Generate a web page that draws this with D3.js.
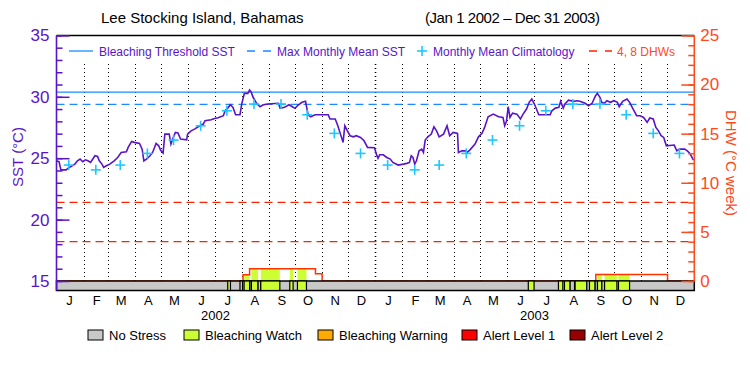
<!DOCTYPE html>
<html>
<head>
<meta charset="utf-8">
<script src="https://cdn.jsdelivr.net/npm/d3@7"></script>
<style>
  body { margin: 0; background: #fff; }
  text { font-family: "Liberation Sans", Arial, sans-serif; }
</style>
</head>
<body>
<svg id="chart" width="750" height="375"></svg>
<script>
// ********************** //
//          Data          //
// ********************** //

// days since Jan 1 2002
var sstDay = [0,3,5,11,13,17,21,24,27,30,33,36,39,41,44,47,49,52,54,57,61,66,70,74,80,82,86,89,95,98,
  100,103,107,110,114,117,119,122,124,129,131,133,136,139,142,149,150,154,158,164,168,170,177,181,185,
  191,193,196,199,202,205,210,212,215,219,221,223,225,227,229,233,236,242,254,256,261,266,270,273,277,
  281,285,288,291,296,311,313,319,322,325,328,330,333,336,340,343,348,352,356,364,366,368,370,374,378,
  382,385,391,397,401,404,406,408,410,412,415,418,420,422,425,429,432,435,438,443,447,450,454,459,460,
  464,468,470,473,479,483,487,490,494,500,506,511,513,515,517,519,522,527,531,534,538,541,544,547,552,
  565,567,571,575,577,580,582,586,592,596,599,605,609,613,617,619,622,624,627,630,634,638,642,644,648,
  653,656,660,664,668,672,676,679,683,686,689,692,695,698,707,710,713,719,722,725,729];
var sstValue = [24.79,24.70,24.05,24.05,24.17,24.33,24.52,24.79,24.93,24.71,24.87,24.79,24.66,24.87,25.20,
  25.14,24.79,24.52,24.25,24.38,24.52,24.79,25.06,25.47,25.52,25.88,26.37,26.29,26.20,25.74,
  24.79,24.93,25.20,25.47,26.20,26.01,25.66,25.42,26.96,26.96,26.15,26.56,27.10,27.05,26.56,26.50,26.96,
  27.23,27.37,27.64,27.78,28.05,28.13,28.24,28.29,
  28.46,28.86,29.08,29.35,29.14,28.54,28.54,29.41,30.28,30.28,30.55,30.36,29.96,29.73,29.47,29.19,29.33,
  29.41,29.47,29.06,29.14,29.35,29.19,29.06,29.35,
  29.55,29.63,28.54,28.37,28.54,28.54,28.19,28.19,27.64,26.96,26.29,27.64,27.23,26.83,26.74,26.83,26.69,
  26.42,25.88,25.85,25.35,25.00,25.28,25.28,25.06,
  24.93,24.66,24.44,24.52,24.58,24.66,25.20,25.06,24.52,24.79,25.60,25.74,25.47,26.48,26.74,26.96,27.56,
  27.23,26.74,26.96,27.64,26.83,27.10,27.02,25.47,
  25.60,25.60,25.47,25.66,26.15,26.74,27.02,27.51,28.37,28.59,28.37,28.32,27.64,28.00,29.19,28.32,28.67,
  28.59,28.19,28.59,29.00,29.55,29.82,29.41,28.54,
  28.54,28.86,29.08,29.14,29.63,29.08,29.41,29.73,29.63,29.68,29.63,29.47,29.27,29.47,30.09,30.28,29.96,
  29.55,29.47,29.68,29.55,29.68,29.55,29.19,29.63,
  29.82,29.55,29.00,28.46,28.46,28.32,27.92,28.27,28.19,27.51,27.23,26.83,26.69,26.01,26.07,25.60,25.74,
  25.74,25.60,25.39,24.85];

// monthly mean climatology, Jan..Dec
var climValue = [24.44, 24.05, 24.44, 25.39, 26.48, 27.64, 28.86, 29.41, 29.41, 28.54, 27.02, 25.39];
var maxMonthlyMean = 29.38;
var bleachingThreshold = 30.38;
var dhwLevels = [4, 8];

// degree heating weeks (step values, days since Jan 1 2002)
var dhwDay = [0, 213.5, 221, 296.4, 304, 617.3, 699.4, 730];
var dhwValue = [0, 0.63, 1.24, 0.73, 0, 0.65, 0, 0];

// stress level segments: 0 no stress, 1 watch, 2 warning, 3 alert 1, 4 alert 2
var stressStart = [196, 210, 214.7, 221.2, 223.1, 230.7, 233.8, 267, 275.8,
  540, 574.5, 581.4, 587.9, 593.6, 607, 610, 616.5, 619.2, 624.2, 627.3, 643.2];
var stressEnd = [199.1, 213, 221.2, 223.1, 230.7, 233.8, 255.6, 270.8, 286.1,
  546.6, 579.5, 587.9, 592.9, 607, 611.9, 616.5, 619.2, 624.2, 627.3, 641.4, 655.9];
var stressLevel = [1, 0, 1, 0, 1, 0, 1, 1, 1,
  1, 1, 1, 0, 1, 0, 1, 0, 1, 0, 1, 1];

var stressNames = ['No Stress', 'Bleaching Watch', 'Bleaching Warning', 'Alert Level 1', 'Alert Level 2'];
var stressColors = ['#c8c8c8', '#ccff33', '#ffaa00', '#ff0000', '#990000'];
var monthLetters = ['J','F','M','A','M','J','J','A','S','O','N','D'];
var years = [2002, 2003];

// ********************** //
//         Setup          //
// ********************** //

var purple = '#5a14c8',
    red = '#ff4a1a',
    blue = '#1a8cff',
    cyan = '#1ec8ff';

var svg = d3.select('#chart');
var day0 = new Date(2002, 0, 1);
var toDate = d => d3.timeDay.offset(day0, Math.floor(d)).getTime() + (d % 1) * 864e5;

var x = d3.scaleTime()
    .domain([day0, new Date(2004, 0, 1)])
    .range([56.5, 694.3]);
var ySst = d3.scaleLinear().domain([15, 35]).range([281, 35.4]);
var yDhw = d3.scaleLinear().domain([0, 25]).range([281, 35.4]);

var plotTop = 35.4, stripTop = 281, stripBottom = 290.5;

// plot frame top
svg.append('line')
    .attr('x1', x.range()[0]).attr('x2', x.range()[1])
    .attr('y1', plotTop).attr('y2', plotTop)
    .attr('stroke', '#000').attr('stroke-width', 1.5);

// ***** Month grid ***** //
var monthStarts = d3.timeMonth.range(new Date(2002, 1, 1), new Date(2004, 0, 1));
svg.append('g').selectAll('line')
    .data(monthStarts)
    .enter()
    .append('line')
    .attr('x1', d => Math.round(x(d)) + 0.5).attr('x2', d => Math.round(x(d)) + 0.5)
    .attr('y1', 64).attr('y2', stripTop)
    .attr('stroke', '#000')
    .attr('stroke-width', d => d.getMonth() == 0 ? 1.6 : 1)
    .attr('stroke-dasharray', '1,3');

// ***** Reference lines ***** //
svg.append('line')
    .attr('x1', x.range()[0]).attr('x2', x.range()[1])
    .attr('y1', ySst(bleachingThreshold)).attr('y2', ySst(bleachingThreshold))
    .attr('stroke', blue).attr('stroke-width', 1.3);
svg.append('line')
    .attr('x1', x.range()[0]).attr('x2', x.range()[1])
    .attr('y1', ySst(maxMonthlyMean)).attr('y2', ySst(maxMonthlyMean))
    .attr('stroke', blue).attr('stroke-width', 1.3)
    .attr('stroke-dasharray', '8,5');
svg.append('g').selectAll('line')
    .data(dhwLevels)
    .enter()
    .append('line')
    .attr('x1', x.range()[0]).attr('x2', x.range()[1])
    .attr('y1', d => yDhw(d)).attr('y2', d => yDhw(d))
    .attr('stroke', '#ff2200').attr('stroke-width', 1.3)
    .attr('stroke-dasharray', '8,5');

// ***** DHW fill + step line ***** //
var dhwAt = function(d) {
    var i = d3.bisectRight(dhwDay, d) - 1;
    return dhwValue[Math.max(i, 0)];
};
var stress = stressStart.map((s, i) => ({s: s, e: stressEnd[i], level: stressLevel[i]}));

svg.append('g').selectAll('rect')
    .data(stress.filter(d => d.level > 0 && dhwAt(d.s + 0.5) > 0))
    .enter()
    .append('rect')
    .attr('x', d => x(toDate(d.s)))
    .attr('width', d => x(toDate(d.e)) - x(toDate(d.s)))
    .attr('y', d => yDhw(dhwAt(d.s + 0.5)))
    .attr('height', d => stripTop - yDhw(dhwAt(d.s + 0.5)))
    .attr('fill', d => stressColors[d.level]);

var dhwLine = d3.line()
    .x((d, i) => x(toDate(dhwDay[i])))
    .y(d => yDhw(d))
    .curve(d3.curveStepAfter);
svg.append('path')
    .attr('d', dhwLine(dhwValue))
    .attr('fill', 'none')
    .attr('stroke', '#ff3300')
    .attr('stroke-width', 1.5);

// ***** Stress strip ***** //
svg.append('rect')
    .attr('x', x.range()[0]).attr('y', stripTop)
    .attr('width', x.range()[1] - x.range()[0]).attr('height', stripBottom - stripTop)
    .attr('fill', stressColors[0])
    .attr('stroke', '#000').attr('stroke-width', 1.5);
svg.append('g').selectAll('rect')
    .data(stress)
    .enter()
    .append('rect')
    .attr('x', d => x(toDate(d.s)))
    .attr('width', d => x(toDate(d.e)) - x(toDate(d.s)))
    .attr('y', stripTop).attr('height', stripBottom - stripTop)
    .attr('fill', d => stressColors[d.level])
    .attr('stroke', '#000').attr('stroke-width', 1.2);

// ***** SST line ***** //
var sstLine = d3.line()
    .x((d, i) => x(toDate(sstDay[i])))
    .y(d => ySst(d));
svg.append('path')
    .attr('d', sstLine(sstValue))
    .attr('fill', 'none')
    .attr('stroke', purple)
    .attr('stroke-width', 1.6)
    .attr('stroke-linejoin', 'miter');

// ***** Climatology crosses ***** //
var clim = [];
years.forEach(yr => climValue.forEach((v, m) => clim.push({date: new Date(yr, m, 15), v: v})));
var cross = svg.append('g').selectAll('g')
    .data(clim)
    .enter()
    .append('g')
    .attr('transform', d => 'translate(' + x(d.date) + ',' + ySst(d.v) + ')')
    .attr('stroke', cyan).attr('stroke-width', 1.6);
cross.append('line').attr('x1', -5).attr('x2', 5);
cross.append('line').attr('y1', -5).attr('y2', 5);

// ********************** //
//          Axes          //
// ********************** //

var leftMinor = d3.axisLeft(ySst).ticks(20).tickSize(-6).tickFormat('');
var leftMajor = d3.axisLeft(ySst).tickValues([15, 20, 25, 30, 35]).tickSize(-13).tickPadding(7);
var rightMinor = d3.axisRight(yDhw).ticks(25).tickSize(-6).tickFormat('');
var rightMajor = d3.axisRight(yDhw).tickValues([0, 5, 10, 15, 20, 25]).tickSize(-13).tickPadding(6);

var styleAxis = function(g, color) {
    g.selectAll('path').remove();
    g.selectAll('line').attr('stroke', color).attr('stroke-width', 1.5);
    g.selectAll('text').attr('fill', color).attr('font-size', 17);
};

svg.append('g').attr('transform', 'translate(56.5,0)').call(leftMinor).call(styleAxis, purple);
svg.append('g').attr('transform', 'translate(56.5,0)').call(leftMajor).call(styleAxis, purple);
svg.append('g').attr('transform', 'translate(694.3,0)').call(rightMinor).call(styleAxis, red);
svg.append('g').attr('transform', 'translate(694.3,0)').call(rightMajor).call(styleAxis, red);

svg.append('line')
    .attr('x1', 56.5).attr('x2', 56.5).attr('y1', plotTop).attr('y2', stripBottom)
    .attr('stroke', purple).attr('stroke-width', 1.6);
svg.append('line')
    .attr('x1', 694.3).attr('x2', 694.3).attr('y1', plotTop).attr('y2', stripTop)
    .attr('stroke', red).attr('stroke-width', 1.6);

svg.append('text')
    .attr('transform', 'translate(23,157) rotate(-90)')
    .attr('text-anchor', 'middle')
    .attr('fill', purple).attr('font-size', 15)
    .text('SST (°C)');
svg.append('text')
    .attr('transform', 'translate(726,163) rotate(90)')
    .attr('text-anchor', 'middle')
    .attr('fill', red).attr('font-size', 15)
    .text('DHW (°C week)');

// ***** Month + year labels ***** //
var months = d3.timeMonth.range(day0, new Date(2004, 0, 1));
svg.append('g').selectAll('text')
    .data(months)
    .enter()
    .append('text')
    .attr('x', d => x(new Date(d.getFullYear(), d.getMonth(), 16)))
    .attr('y', 305)
    .attr('text-anchor', 'middle')
    .attr('font-size', 13)
    .text(d => monthLetters[d.getMonth()]);
svg.append('g').selectAll('text')
    .data(years)
    .enter()
    .append('text')
    .attr('x', d => x(new Date(d, 6, 2)))
    .attr('y', 320)
    .attr('text-anchor', 'middle')
    .attr('font-size', 13)
    .text(d => d);

// ********************** //
//        Legends         //
// ********************** //

var legendX = [88, 184, 318, 462, 570];
var lg = svg.append('g').selectAll('g')
    .data(stressNames)
    .enter()
    .append('g')
    .attr('transform', (d, i) => 'translate(' + legendX[i] + ',330)');
lg.append('rect')
    .attr('width', 15).attr('height', 10)
    .attr('fill', (d, i) => stressColors[i])
    .attr('stroke', '#000');
lg.append('text')
    .attr('x', 21).attr('y', 10)
    .attr('font-size', 13)
    .text(d => d);

var topLeg = svg.append('g').attr('transform', 'translate(0,51)');
topLeg.append('line').attr('x1', 69).attr('x2', 93).attr('stroke', blue).attr('stroke-width', 1.3);
topLeg.append('text').attr('x', 99).attr('y', 4.5).attr('font-size', 12).attr('fill', purple)
    .text('Bleaching Threshold SST');
topLeg.append('line').attr('x1', 247).attr('x2', 271).attr('stroke', blue).attr('stroke-width', 1.3)
    .attr('stroke-dasharray', '8,8');
topLeg.append('text').attr('x', 277).attr('y', 4.5).attr('font-size', 12).attr('fill', purple)
    .text('Max Monthly Mean SST');
var lc = topLeg.append('g').attr('transform', 'translate(422,0)').attr('stroke', cyan).attr('stroke-width', 1.6);
lc.append('line').attr('x1', -5).attr('x2', 5);
lc.append('line').attr('y1', -5).attr('y2', 5);
topLeg.append('text').attr('x', 433).attr('y', 4.5).attr('font-size', 12).attr('fill', purple)
    .text('Monthly Mean Climatology');
topLeg.append('line').attr('x1', 589).attr('x2', 612).attr('stroke', '#ff2200').attr('stroke-width', 1.3)
    .attr('stroke-dasharray', '8,8');
topLeg.append('text').attr('x', 617).attr('y', 4.5).attr('font-size', 12).attr('fill', red)
    .text('4, 8 DHWs');

// ***** Title ***** //
svg.append('text')
    .attr('x', 101).attr('y', 23)
    .attr('font-size', 15)
    .text('Lee Stocking Island, Bahamas');
svg.append('text')
    .attr('x', 425).attr('y', 23)
    .attr('font-size', 15)
    .attr('textLength', 175)
    .text('(Jan 1 2002 \u2013 Dec 31 2003)');
</script>
</body>
</html>
